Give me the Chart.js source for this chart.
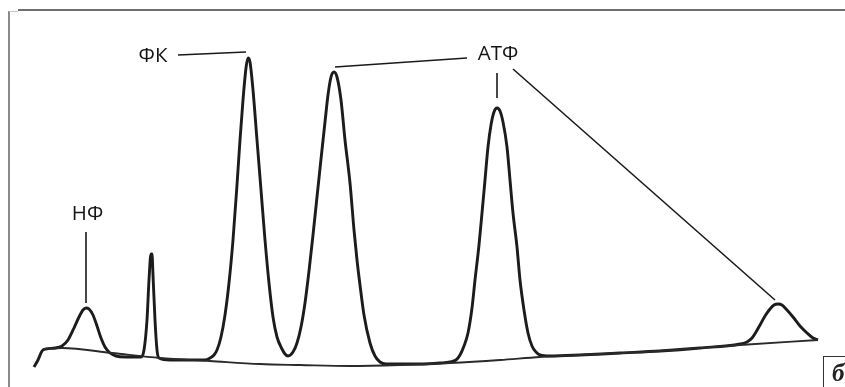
<!DOCTYPE html>
<html>
<head>
<meta charset="utf-8">
<script src="https://cdn.jsdelivr.net/npm/chart.js@4"></script>
<style>
	body { margin: 0; background: #fff; }
	#wrap { position: relative; width: 845px; height: 387px; overflow: hidden; }
	#frameLeft { position: absolute; left: 8px; top: 11px; width: 2px; height: 376px; background: #8a8a8a; }
	#frameTopLight { position: absolute; left: 9px; top: 11px; width: 9px; height: 1px; background: #c4c4c4; }
	#frameTop { position: absolute; left: 18px; top: 9px; width: 827px; height: 2px; background: #6e6e6e; }
	#panel { position: absolute; left: 823px; top: 356px; width: 40px; height: 40px;
		border-left: 1.5px solid #333; border-top: 1.5px solid #333;
		font: italic bold 25px "Liberation Serif", serif; color: #222; }
	#panel span { position: absolute; left: 8px; top: 2px; }
</style>
</head>
<body>
<div id="wrap">
	<canvas id="spectrumChart"></canvas>
	<div id="frameLeft"></div>
	<div id="frameTopLight"></div>
	<div id="frameTop"></div>
	<div id="panel"><span>б</span></div>
</div>
<script>
// spectrum trace (x = position, y = intensity)
const spectrumX = [34, 38, 42, 46, 55, 62, 68, 74, 79, 83, 86, 89, 93, 97, 101, 105, 110, 116, 125, 135,
	141, 144, 147, 149, 151, 152, 153, 155, 157, 159, 170, 190, 205, 210, 214, 217, 221, 225, 229, 233,
	237, 240, 243, 246, 248, 250, 253, 257, 261, 265, 269, 273, 277, 282, 285, 288, 293, 297, 301, 305,
	309, 313, 317, 321, 325, 328, 331, 334, 337, 341, 345, 350, 354, 357, 360, 364, 370, 375, 380, 386,
	400, 420, 440, 450, 456, 460, 464, 468, 472, 475, 479, 482, 485, 488, 491, 494, 497, 500, 503, 507,
	510, 513, 517, 520, 524, 528, 532, 536, 540, 550, 580, 620, 660, 700, 740, 747, 752, 756, 760, 765,
	770, 774, 778, 782, 787, 793, 800, 807, 813, 818];
const spectrumY = [20, 27, 36, 38, 39, 41, 47, 59, 70, 77, 79, 78, 72, 61, 49, 40, 34, 31, 30, 30,
	30, 37, 67, 107, 133, 133, 112, 67, 37, 29, 27, 27, 27, 29, 32, 37, 50, 72, 104, 147,
	202, 247, 287, 319, 329, 325, 297, 247, 197, 147, 104, 70, 50, 38, 33, 31, 35, 44, 60, 84,
	116, 152, 190, 228, 265, 292, 310, 315, 310, 287, 247, 204, 157, 127, 102, 72, 44, 31, 25, 23,
	23, 23, 24, 25, 27, 32, 41, 54, 79, 107, 142, 174, 207, 240, 262, 275, 279, 276, 265, 240,
	207, 174, 140, 107, 77, 54, 41, 35, 32, 31, 32, 34, 36, 39, 43, 45, 49, 55, 62, 71,
	78, 82, 83, 82, 77, 70, 61, 54, 49, 47];

// drawn baseline under the peaks
const baselineX = [43, 62, 112, 160, 210, 260, 300, 350, 400, 450, 500, 540, 580, 660, 740, 818];
const baselineY = [38, 39, 34, 29, 26, 23, 22, 21, 22, 24, 27, 30, 32, 36, 42, 47];

// peak labels
const peakLabels = ["НФ", "ФК", "АТФ"];

function toPoints(xs, ys) {
	var pts = [];
	for (var i = 0; i < xs.length; i++) {
		pts.push({ x: xs[i], y: ys[i] });
	}
	return pts;
}

// label anchors and leader lines, in chart units
const callouts = [
	{ text: peakLabels[0], x: 87.5, y: 167, lines: [[86, 155, 86, 84]] },
	{ text: peakLabels[1], x: 153, y: 325, lines: [[178, 332, 246, 335]] },
	{ text: peakLabels[2], x: 498, y: 327, lines: [[467, 329, 335, 320], [497, 314, 497, 289], [513, 318, 775, 87]] },
];

const calloutPlugin = {
	id: "callouts",
	afterDatasetsDraw(chart) {
		const ctx = chart.ctx;
		const xs = chart.scales.x;
		const ys = chart.scales.y;
		ctx.save();
		ctx.strokeStyle = "#1a1a1a";
		ctx.lineWidth = 1.6;
		ctx.fillStyle = "#151515";
		ctx.font = "20.5px 'Open Sans'";
		ctx.textAlign = "center";
		ctx.textBaseline = "alphabetic";
		callouts.forEach(c => {
			c.lines.forEach(l => {
				ctx.beginPath();
				ctx.moveTo(xs.getPixelForValue(l[0]), ys.getPixelForValue(l[1]));
				ctx.lineTo(xs.getPixelForValue(l[2]), ys.getPixelForValue(l[3]));
				ctx.stroke();
			});
			ctx.fillText(c.text, xs.getPixelForValue(c.x), ys.getPixelForValue(c.y));
		});
		ctx.restore();
	},
};

const canvas = document.getElementById("spectrumChart");
canvas.width = 845;
canvas.height = 387;

new Chart(canvas.getContext("2d"), {
	type: "line",
	data: {
		datasets: [{
			label: "baseline",
			data: toPoints(baselineX, baselineY),
			borderColor: "#2a2a2a",
			borderWidth: 1.8,
			pointRadius: 0,
			cubicInterpolationMode: "monotone",
			fill: false,
		}, {
			label: "spectrum",
			data: toPoints(spectrumX, spectrumY),
			borderColor: "#1c1c1c",
			borderWidth: 2.9,
			pointRadius: 0,
			cubicInterpolationMode: "monotone",
			fill: false,
		}, ],
	},
	options: {
		responsive: false,
		animation: false,
		layout: { padding: 0 },
		plugins: {
			legend: { display: false },
			tooltip: { enabled: false },
		},
		scales: {
			x: { type: "linear", min: 0, max: 845, display: false },
			y: { type: "linear", min: 0, max: 387, display: false },
		},
	},
	plugins: [calloutPlugin],
});
</script>
</body>
</html>
